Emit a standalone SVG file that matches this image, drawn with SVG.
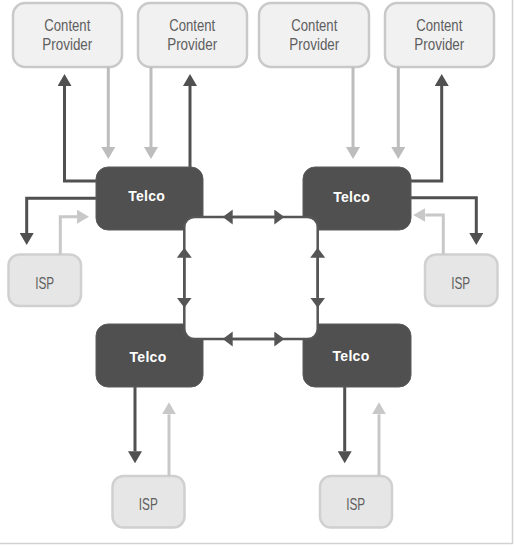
<svg xmlns="http://www.w3.org/2000/svg" width="514" height="546" viewBox="0 0 514 546">
<defs>
<style>
.cp rect{fill:#f1f1f1;stroke:#c9c9c9;stroke-width:2.5}
.isp rect{fill:#e6e6e6;stroke:#d0d0d0;stroke-width:2.5}
.telco rect{fill:#505050;stroke:#5a5a5a;stroke-width:1}
.lt{font-family:"Liberation Sans",Arial,sans-serif;font-size:16.5px;fill:#5e5e5e;text-anchor:middle}
.tt{font-family:"Liberation Sans",Arial,sans-serif;font-size:14px;font-weight:bold;fill:#fff;text-anchor:middle;letter-spacing:0.3px}
.dk{fill:none;stroke:#505050;stroke-width:3}
.lg{fill:none;stroke:#bdbdbd;stroke-width:3}
.li{fill:none;stroke:#c8c8c8;stroke-width:3}
.sm{fill:none;stroke:#555;stroke-width:2.5}
</style>
<marker id="ad" markerUnits="userSpaceOnUse" markerWidth="14" markerHeight="14" refX="0" refY="7" orient="auto"><path d="M0,0 L12,7 L0,14 z" fill="#505050"/></marker>
<marker id="al" markerUnits="userSpaceOnUse" markerWidth="14" markerHeight="14" refX="0" refY="7" orient="auto"><path d="M0,0 L12,7 L0,14 z" fill="#bdbdbd"/></marker>
<marker id="ai" markerUnits="userSpaceOnUse" markerWidth="14" markerHeight="14" refX="0" refY="7" orient="auto"><path d="M0,0 L12,7 L0,14 z" fill="#c8c8c8"/></marker>
<marker id="as" markerUnits="userSpaceOnUse" markerWidth="12" markerHeight="16" refX="0" refY="7.5" orient="auto"><path d="M0,0 L10,7.5 L0,15 z" fill="#555"/></marker>
</defs>
<rect width="514" height="546" fill="#fff"/>
<path d="M512.5,0 V543.5 H0" fill="none" stroke="#d2d2d2" stroke-width="1.5"/>

<g id="cp1" class="cp"><rect x="13" y="3" width="109" height="64" rx="12"/><text class="lt" x="67.3" y="31" textLength="46" lengthAdjust="spacingAndGlyphs">Content</text><text class="lt" x="67.3" y="50" textLength="50" lengthAdjust="spacingAndGlyphs">Provider</text></g>
<g id="cp2" class="cp"><rect x="138" y="3" width="109" height="64" rx="12"/><text class="lt" x="192.2" y="31" textLength="46" lengthAdjust="spacingAndGlyphs">Content</text><text class="lt" x="192.2" y="50" textLength="50" lengthAdjust="spacingAndGlyphs">Provider</text></g>
<g id="cp3" class="cp"><rect x="259" y="3" width="110" height="64" rx="12"/><text class="lt" x="314.3" y="31" textLength="46" lengthAdjust="spacingAndGlyphs">Content</text><text class="lt" x="314.3" y="50" textLength="50" lengthAdjust="spacingAndGlyphs">Provider</text></g>
<g id="cp4" class="cp"><rect x="385" y="3" width="109" height="64" rx="12"/><text class="lt" x="439.3" y="31" textLength="46" lengthAdjust="spacingAndGlyphs">Content</text><text class="lt" x="439.3" y="50" textLength="50" lengthAdjust="spacingAndGlyphs">Provider</text></g>

<g id="isp1" class="isp"><rect x="8.5" y="254.5" width="72.5" height="51.5" rx="11"/><text class="lt" x="44.7" y="289" font-size="20" textLength="19" lengthAdjust="spacingAndGlyphs">ISP</text></g>
<g id="isp2" class="isp"><rect x="425" y="254.5" width="72.5" height="51.5" rx="11"/><text class="lt" x="460.7" y="289" font-size="20" textLength="19" lengthAdjust="spacingAndGlyphs">ISP</text></g>
<g id="isp3" class="isp"><rect x="112.5" y="476" width="72" height="51.5" rx="11"/><text class="lt" x="148.3" y="510" font-size="20" textLength="19" lengthAdjust="spacingAndGlyphs">ISP</text></g>
<g id="isp4" class="isp"><rect x="320" y="476" width="72" height="51.5" rx="11"/><text class="lt" x="355.7" y="510" font-size="20" textLength="19" lengthAdjust="spacingAndGlyphs">ISP</text></g>

<g id="connectors">
<path class="dk" d="M97,181 H64.5 V86" marker-end="url(#ad)"/>
<path class="dk" d="M190,168 V86" marker-end="url(#ad)"/>
<path class="dk" d="M97,198.3 H26.7 V233" marker-end="url(#ad)"/>
<path class="lg" d="M108.3,67 V147" marker-end="url(#al)"/>
<path class="lg" d="M151,67 V147" marker-end="url(#al)"/>
<path class="li" d="M60.3,254 V216.7 H77" marker-end="url(#ai)"/>
<path class="lg" d="M353,67 V147" marker-end="url(#al)"/>
<path class="lg" d="M398.3,67 V147" marker-end="url(#al)"/>
<path class="dk" d="M410,181 H441.7 V86" marker-end="url(#ad)"/>
<path class="dk" d="M410,197.7 H476.3 V233" marker-end="url(#ad)"/>
<path class="li" d="M443.3,254 V215 H425.3" marker-end="url(#ai)"/>
<path class="dk" d="M135,387 V451.3" marker-end="url(#ad)"/>
<path class="li" d="M169,476 V414.3" marker-end="url(#ai)"/>
<path class="dk" d="M344.7,387 V451.3" marker-end="url(#ad)"/>
<path class="li" d="M379,476 V414.3" marker-end="url(#ai)"/>
</g>

<g id="telco1" class="telco"><rect x="96" y="167" width="107" height="63" rx="12"/><text class="tt" x="146.7" y="201">Telco</text></g>
<g id="telco2" class="telco"><rect x="303" y="167" width="108" height="63" rx="12"/><text class="tt" x="351.7" y="202">Telco</text></g>
<g id="telco3" class="telco"><rect x="96" y="324" width="107" height="63" rx="12"/><text class="tt" x="148" y="361.5">Telco</text></g>
<g id="telco4" class="telco"><rect x="303" y="324" width="108" height="63" rx="12"/><text class="tt" x="351" y="360.5">Telco</text></g>

<g id="ring">
<rect x="184.3" y="217" width="133.4" height="122" rx="10" fill="#fff" stroke="#555" stroke-width="2.5"/>
<path class="sm" d="M251,217 H232.7" marker-end="url(#as)"/>
<path class="sm" d="M251,217 H274.3" marker-end="url(#as)"/>
<path class="sm" d="M251,339 H232.7" marker-end="url(#as)"/>
<path class="sm" d="M251,339 H274.3" marker-end="url(#as)"/>
<path class="sm" d="M184.3,278 V257.7" marker-end="url(#as)"/>
<path class="sm" d="M184.3,278 V297.7" marker-end="url(#as)"/>
<path class="sm" d="M317.7,278 V257.7" marker-end="url(#as)"/>
<path class="sm" d="M317.7,278 V297.7" marker-end="url(#as)"/>
</g>
</svg>
